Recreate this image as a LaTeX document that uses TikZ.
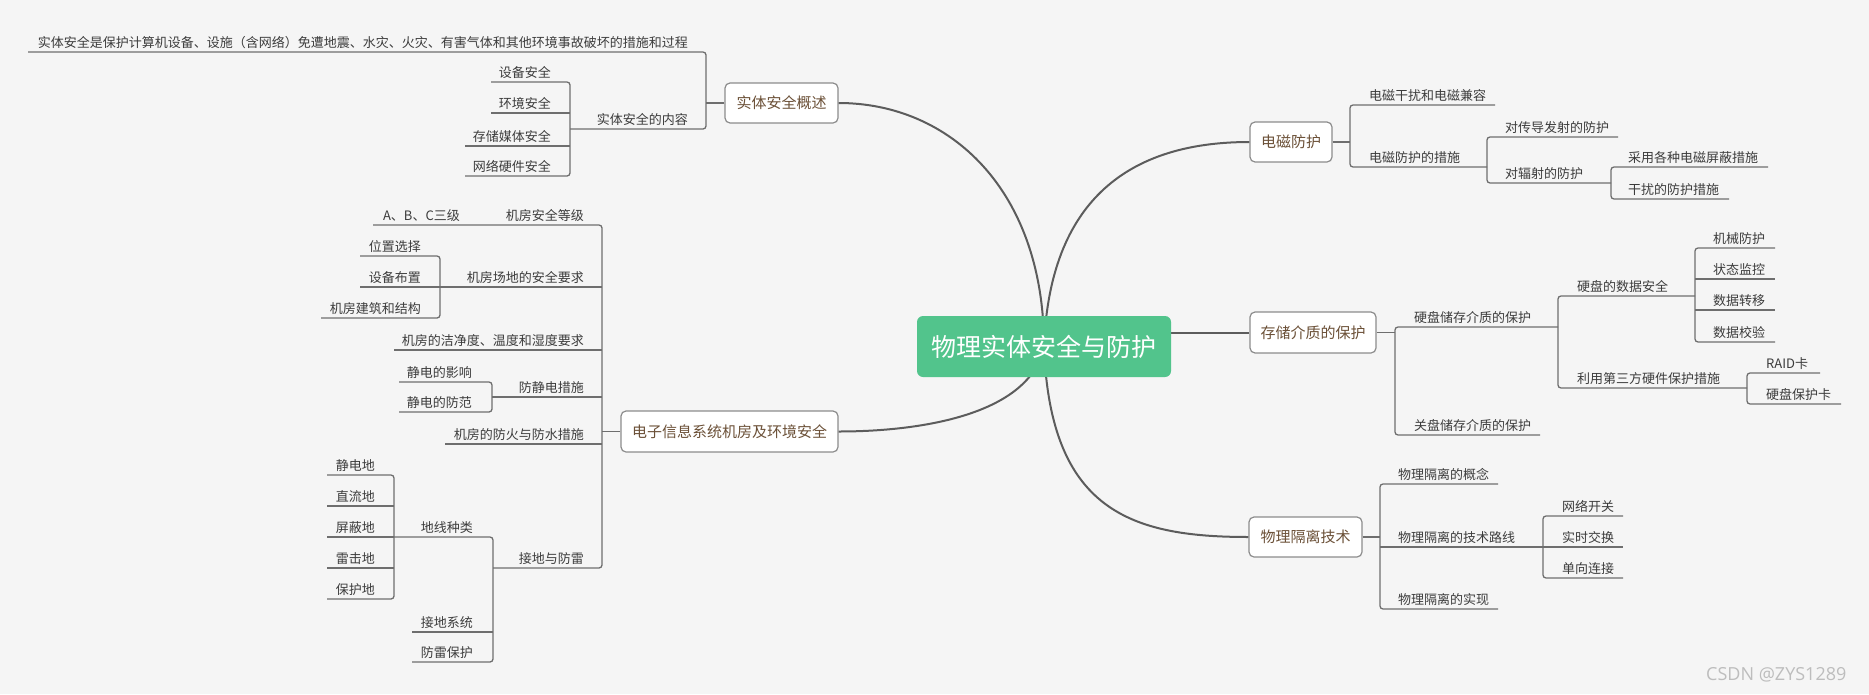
\documentclass[tikz,border=0pt]{standalone}
\usepackage{fontspec}
\setmainfont{Noto Sans CJK SC}
\newfontfamily\wmfont{Open Sans}
\usepackage{tikz}

\definecolor{bgc}{HTML}{F5F5F5}
\definecolor{rootc}{HTML}{52C48C}
\definecolor{trunkc}{HTML}{5C5C5C}
\definecolor{twigc}{HTML}{6E6E6E}
\definecolor{boxc}{HTML}{8C8C8C}
\definecolor{topicc}{HTML}{6B5037}
\definecolor{labelc}{HTML}{3C3C3C}
\definecolor{wmc}{HTML}{BDBDBD}

\tikzset{
  lbl/.style={inner sep=0pt, text=labelc, font=\fontsize{13pt}{15pt}\selectfont},
  topic/.style={draw=boxc, fill=white, rounded corners=5pt, line width=1.2pt, inner sep=0pt,
    text=topicc, font=\fontsize{15pt}{18pt}\selectfont},
  root/.style={fill=rootc, rounded corners=6pt, text=white, inner sep=0pt,
    font=\fontsize{25pt}{30pt}\selectfont, minimum width=254pt, minimum height=61pt},
  trunk/.style={draw=trunkc, line width=2pt},
  twig/.style={draw=twigc, line width=1.3pt, rounded corners=3pt}
}

\begin{document}
\begin{tikzpicture}[x=1pt,y=-1pt]
    \fill[bgc] (0,0) rectangle (1869,694);
    \useasboundingbox (0,0) rectangle (1869,694);

    \node[topic,minimum width=113pt,minimum height=40pt] (gaishu) at (781.5,103) {实体安全概述};
    \node[topic,minimum width=217pt,minimum height=41pt] (jifang) at (729.5,431.5) {电子信息系统机房及环境安全};
    \node[topic,minimum width=82pt,minimum height=40pt] (dianci) at (1291,142) {电磁防护};
    \node[topic,minimum width=126pt,minimum height=41pt] (cunchu) at (1313,332.5) {存储介质的保护};
    \node[topic,minimum width=113pt,minimum height=40pt] (geli) at (1305.5,537) {物理隔离技术};

    \coordinate (rc) at (1044,346.5);
    \draw[trunk] (rc) .. controls (1044,190) and (950,103) .. (gaishu.east);
    \draw[trunk] (rc) .. controls (1050,190) and (1140,142) .. (dianci.west);
    \draw[trunk] (rc |- cunchu.west) -- (cunchu.west);
    \draw[trunk] (rc) .. controls (1030,415) and (920,431.5) .. (jifang.east);
    \draw[trunk] (rc) .. controls (1050,510) and (1130,537) .. (geli.west);
    \node[root] (root) at (rc) {物理实体安全与防护};

    \draw[twig] (gaishu.west) -- (706,103);
    \draw[twig] (28,52) -- (706,52) -- (706,129) -- (570,129);
    \node[lbl,anchor=base east] (dingyi) at (688,47) {实体安全是保护计算机设备、设施（含网络）免遭地震、水灾、火灾、有害气体和其他环境事故破坏的措施和过程};
    \node[lbl,anchor=base east] (neirong) at (688,124) {实体安全的内容};
    \draw[twig] (491,82) -- (570,82) -- (570,176) -- (465,176);
    \draw[twig] (491,113) -- (570,113);
    \draw[twig] (465,146) -- (570,146);
    \node[lbl,anchor=base east] (shebei) at (551,77) {设备安全};
    \node[lbl,anchor=base east] (huanjing) at (551,108) {环境安全};
    \node[lbl,anchor=base east] (meiti) at (551,141) {存储媒体安全};
    \node[lbl,anchor=base east] (yingjian) at (551,171) {网络硬件安全};

    \draw[twig] (jifang.west) -- (602,431.5);
    \draw[twig] (373,225) -- (602,225) -- (602,568) -- (493,568);
    \node[lbl,anchor=base east] (dengji) at (584,220) {机房安全等级};
    \node[lbl,anchor=base east] (abc) at (460,220) {A、B、C三级};
    \draw[twig] (440,287) -- (602,287);
    \node[lbl,anchor=base east] (changdi) at (584,282) {机房场地的安全要求};
    \draw[twig] (360,256) -- (440,256) -- (440,318) -- (321,318);
    \draw[twig] (360,287) -- (440,287);
    \node[lbl,anchor=base east] (weizhi) at (421,251) {位置选择};
    \node[lbl,anchor=base east] (buzhi) at (421,282) {设备布置};
    \node[lbl,anchor=base east] (jianzhu) at (421,313) {机房建筑和结构};
    \draw[twig] (394,350) -- (602,350);
    \node[lbl,anchor=base east] (jiejing) at (584,345) {机房的洁净度、温度和湿度要求};
    \draw[twig] (492,397) -- (602,397);
    \node[lbl,anchor=base east] (jingdian) at (584,392) {防静电措施};
    \draw[twig] (399,382) -- (492,382) -- (492,412) -- (399,412);
    \node[lbl,anchor=base east] (yingxiang) at (472,377) {静电的影响};
    \node[lbl,anchor=base east] (fangfan) at (472,407) {静电的防范};
    \draw[twig] (445,444) -- (602,444);
    \node[lbl,anchor=base east] (fanghuo) at (584,439) {机房的防火与防水措施};
    \node[lbl,anchor=base east] (jiedi) at (584,563) {接地与防雷};
    \draw[twig] (394,537) -- (493,537) -- (493,662) -- (412,662);
    \draw[twig] (412,632) -- (493,632);
    \node[lbl,anchor=base east] (dixian) at (473,532) {地线种类};
    \node[lbl,anchor=base east] (xitong) at (473,627) {接地系统};
    \node[lbl,anchor=base east] (fanglei) at (473,657) {防雷保护};
    \draw[twig] (327,475) -- (394,475) -- (394,599) -- (327,599);
    \draw[twig] (327,506) -- (394,506);
    \draw[twig] (327,537) -- (394,537);
    \draw[twig] (327,568) -- (394,568);
    \node[lbl,anchor=base east] (jingdiandi) at (375,470) {静电地};
    \node[lbl,anchor=base east] (zhiliu) at (375,501) {直流地};
    \node[lbl,anchor=base east] (pingbidi) at (375,532) {屏蔽地};
    \node[lbl,anchor=base east] (leiji) at (375,563) {雷击地};
    \node[lbl,anchor=base east] (baohudi) at (375,594) {保护地};

    \draw[twig] (dianci.east) -- (1350,142);
    \draw[twig] (1495,105) -- (1350,105) -- (1350,167) -- (1487,167);
    \node[lbl,anchor=base west] (ganrao) at (1369,100) {电磁干扰和电磁兼容};
    \node[lbl,anchor=base west] (cuoshi) at (1369,162) {电磁防护的措施};
    \draw[twig] (1618,137) -- (1487,137) -- (1487,183) -- (1611,183);
    \node[lbl,anchor=base west] (chuandao) at (1505,132) {对传导发射的防护};
    \node[lbl,anchor=base west] (fushe) at (1505,178) {对辐射的防护};
    \draw[twig] (1768,167) -- (1611,167) -- (1611,199) -- (1729,199);
    \node[lbl,anchor=base west] (pingbi) at (1628,162) {采用各种电磁屏蔽措施};
    \node[lbl,anchor=base west] (fanghu) at (1628,194) {干扰的防护措施};

    \draw[twig] (cunchu.east) -- (1395,332.5);
    \draw[twig] (1558,327) -- (1395,327) -- (1395,435) -- (1540,435);
    \node[lbl,anchor=base west] (yingpan) at (1414,322) {硬盘储存介质的保护};
    \node[lbl,anchor=base west] (guangpan) at (1414,430) {关盘储存介质的保护};
    \draw[twig] (1695,296) -- (1558,296) -- (1558,388) -- (1747,388);
    \node[lbl,anchor=base west] (shuju) at (1577,291) {硬盘的数据安全};
    \node[lbl,anchor=base west] (disanfang) at (1577,383) {利用第三方硬件保护措施};
    \draw[twig] (1775,248) -- (1695,248) -- (1695,342) -- (1775,342);
    \draw[twig] (1695,279) -- (1775,279);
    \draw[twig] (1695,310) -- (1775,310);
    \node[lbl,anchor=base west] (jixie) at (1713,243) {机械防护};
    \node[lbl,anchor=base west] (jiankong) at (1713,274) {状态监控};
    \node[lbl,anchor=base west] (zhuanyi) at (1713,305) {数据转移};
    \node[lbl,anchor=base west] (jiaoyan) at (1713,337) {数据校验};
    \draw[twig] (1820,373) -- (1747,373) -- (1747,404) -- (1841,404);
    \node[lbl,anchor=base west] (raid) at (1766,368) {RAID卡};
    \node[lbl,anchor=base west] (baohuka) at (1766,399) {硬盘保护卡};

    \draw[twig] (geli.east) -- (1380,537);
    \draw[twig] (1498,484) -- (1380,484) -- (1380,609) -- (1498,609);
    \draw[twig] (1380,547) -- (1623,547);
    \node[lbl,anchor=base west] (gainian) at (1398,479) {物理隔离的概念};
    \node[lbl,anchor=base west] (luxian) at (1398,542) {物理隔离的技术路线};
    \node[lbl,anchor=base west] (shixian) at (1398,604) {物理隔离的实现};
    \draw[twig] (1623,516) -- (1543,516) -- (1543,578) -- (1623,578);
    \node[lbl,anchor=base west] (kaiguan) at (1562,511) {网络开关};
    \node[lbl,anchor=base west] (jiaohuan) at (1562,542) {实时交换};
    \node[lbl,anchor=base west] (lianjie) at (1562,573) {单向连接};

    \node[anchor=base west,inner sep=0pt,text=wmc,font=\wmfont\fontsize{18pt}{20pt}\selectfont] (wm) at (1706,680) {CSDN @ZYS1289};
\end{tikzpicture}
\end{document}
